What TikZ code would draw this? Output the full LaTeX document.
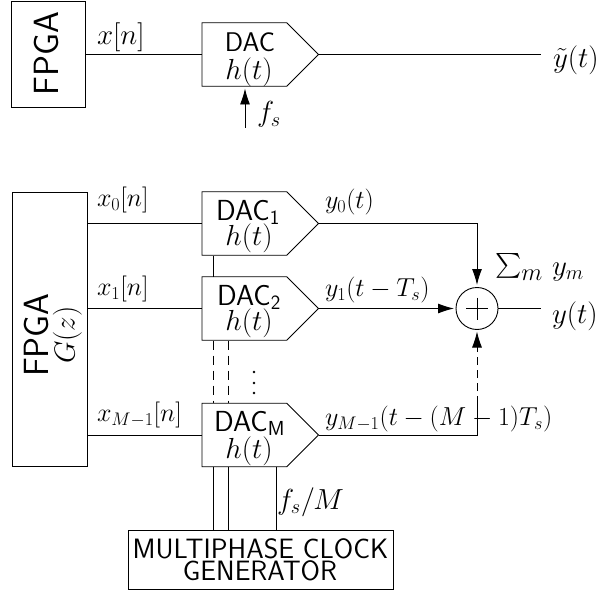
\documentclass[tikz,border=0pt]{standalone}
\usepackage{fix-cm}
\usepackage{amsmath}
\usetikzlibrary{arrows.meta,shapes.symbols}
\tikzset{
  wire/.style={line width=0.9pt,draw=black},
  head/.style={wire,-{Latex[length=16pt,width=10pt]}},
  dacshape/.style={draw,line width=0.9pt,signal,signal to=east,signal pointer angle=90,minimum width=116.5pt,minimum height=63.5pt,inner sep=0pt,outer sep=0pt,anchor=west},
  boxnode/.style={draw,line width=0.9pt,rectangle,inner sep=0pt,outer sep=0pt},
  txt/.style={inner sep=0pt,outer sep=0pt,font=\fontsize{29}{33}\selectfont},
  sig/.style={inner sep=0pt,outer sep=0pt,font=\fontsize{26}{30}\selectfont},
  sumc/.style={draw,line width=0.9pt,circle,minimum size=42pt,inner sep=0pt,outer sep=0pt},
  sflabel/.style={inner sep=0pt,outer sep=0pt,font=\fontsize{28}{28}\selectfont\sffamily,align=center},
  fpgalabel/.style={inner sep=0pt,outer sep=0pt,font=\fontsize{35}{35}\selectfont\sffamily}
}
\begin{document}
\begin{tikzpicture}[x=1pt,y=-1pt]
\useasboundingbox (0,0) rectangle (598,594);
% top chain
\node[boxnode,minimum width=74pt,minimum height=106pt] (fpgaA) at (48.5,54) {};
\node[fpgalabel,rotate=90] (fpgaAt) at (46,53.5) {FPGA};
\node[dacshape] (dacA) at (202,54.5) {};
\node[txt,anchor=base] (dacAt) at (250,52) {\fontsize{27}{27}\selectfont\sffamily DAC};
\node[txt,anchor=base] (dacAh) at (249,80) {$h(t)$};
\coordinate (yAend) at (541,54.5);
\coordinate (fsA) at (245,128);
\coordinate (fsAtip) at (245,88.5);
\draw[wire] (fpgaA.east |- dacA.west) -- (dacA.west);
\draw[wire] (dacA.east) -- (yAend);
\draw[head] (fsA) -- (fsAtip);
\node[txt,anchor=base west] (xn) at (97,45) {$x[n]$};
\node[txt,anchor=base west] (fs) at (257,122) {$f_s$};
\node[txt,anchor=base west] (ytilde) at (553,68) {$\tilde y(t)$};
% lower chain
\node[boxnode,minimum width=75pt,minimum height=274pt] (fpgaB) at (49.5,329) {};
\node[fpgalabel,rotate=90] (fpgaBt) at (36,335) {FPGA};
\node[txt,rotate=90] (fpgaBg) at (67.5,335) {$G(z)$};
\node[dacshape] (dac1) at (202,223.5) {};
\node[dacshape] (dac2) at (202,308.5) {};
\node[dacshape] (dacM) at (202,435) {};
\node[txt,anchor=base] (d1t) at (248,220) {\sffamily DAC$_{\mathsf 1}$};
\node[txt,anchor=base] (d1h) at (249,245) {$h(t)$};
\node[txt,anchor=base] (d2t) at (249,305) {\sffamily DAC$_{\mathsf 2}$};
\node[txt,anchor=base] (d2h) at (249,330) {$h(t)$};
\node[txt,anchor=base] (dMt) at (249.5,431.5) {\sffamily DAC$_{\mathsf M}$};
\node[txt,anchor=base] (dMh) at (249,458) {$h(t)$};
\node[boxnode,minimum width=265pt,minimum height=59pt] (gen) at (260.5,560) {};
\node[sflabel,anchor=base] (gent1) at (260.5,558) {MULTIPHASE CLOCK};
\node[sflabel,anchor=base] (gent2) at (260,580) {GENERATOR};
\node[sumc] (sum) at (477,308.5) {};
\coordinate (outEnd) at (541,308.5);
\coordinate (sumN) at (477,285);
\coordinate (sumW) at (454,308.5);
\coordinate (sumS) at (477,331.5);
\coordinate (dashTop) at (477,350);
\coordinate (dashBot) at (477,404);
% sum symbol
\draw[wire] (466,308.5) -- (488,308.5);
\draw[wire] (477,297.5) -- (477,319.5);
% inputs
\draw[wire] (fpgaB.east |- dac1.west) -- (dac1.west);
\draw[wire] (fpgaB.east |- dac2.west) -- (dac2.west);
\draw[wire] (fpgaB.east |- dacM.west) -- (dacM.west);
% outputs
\draw[head] (dac1.east) -| (sumN);
\draw[head] (dac2.east) -- (sumW);
\draw[wire] (dacM.east) -| (dashBot);
\draw[wire,dash pattern=on 8pt off 5pt] (dashBot) -- (dashTop);
\draw[head] (dashTop) -- (sumS);
\draw[wire] (sum.east) -- (outEnd);
% clock rails
\draw[wire] (213,255.5) -- (213,276.5);
\draw[wire,dash pattern=on 9pt off 6pt] (213,340.5) -- (213,403);
\draw[wire,dash pattern=on 9pt off 6pt] (228,340.5) -- (228,403);
\draw[wire] (213,466.5) -- (213,530.5);
\draw[wire] (228,466.5) -- (228,530.5);
\draw[wire] (276,466.5) -- (276,530.5);
\fill (254,372) circle (1.3pt) (254,383) circle (1.3pt) (254,393) circle (1.3pt);
% labels
\node[sig,anchor=base west] (x0) at (97,206.5) {$x_0[n]$};
\node[sig,anchor=base west] (x1) at (97,295.5) {$x_1[n]$};
\node[sig,anchor=base west] (xM) at (97,421.5) {$x_{M-1}[n]$};
\node[sig,anchor=base west] (y0) at (325,208.5) {$y_0(t)$};
\node[sig,anchor=base west] (y1) at (325,296.5) {$y_1(t-T_s)$};
\node[sig,anchor=base west] (yM) at (325,425.5) {$y_{M-1}(t-(M-1)T_s)$};
\node[txt,anchor=base west,font=\fontsize{35}{35}\selectfont] (sigma) at (495,275) {$\sum_m$};
\node[txt,anchor=base west] (sigmay) at (552,275) {$y_m$};
\node[txt,anchor=base west] (yt) at (552,323) {$y(t)$};
\node[txt,anchor=base west] (fsM) at (277,509) {$f_s/M$};
\end{tikzpicture}
\end{document}
